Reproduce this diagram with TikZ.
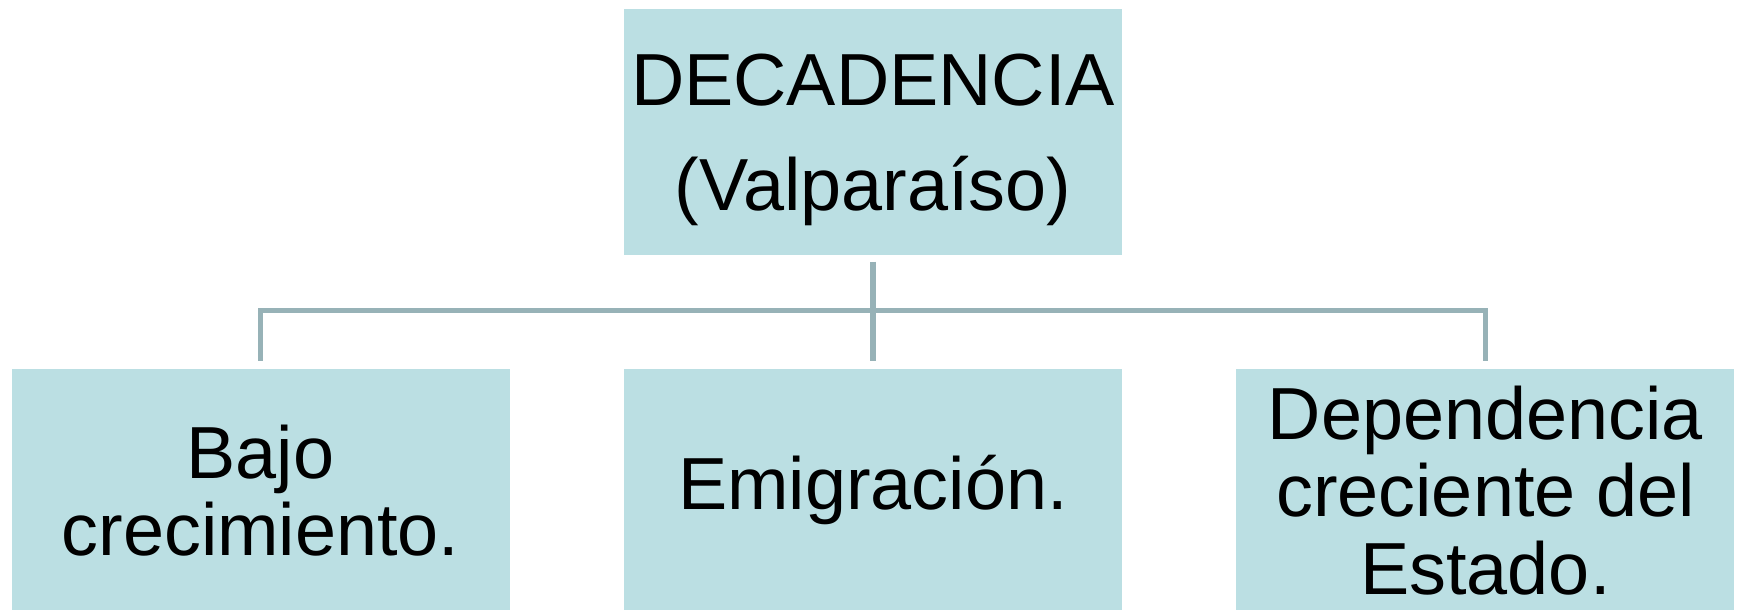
\documentclass[tikz,border=0pt]{standalone}
\usepackage{fontspec}
\setmainfont{Liberation Sans}
\usetikzlibrary{positioning}

\definecolor{boxfill}{HTML}{BBDFE3}
\definecolor{linkcol}{HTML}{97B2B7}

\begin{document}
\begin{tikzpicture}
[
	boxnode/.style={rectangle,fill=boxfill,inner sep=0pt,minimum width=4.98cm,align=center},
	topbox/.style={boxnode,minimum height=2.46cm,text depth=0pt,font=\fontsize{21}{30}\selectfont},
	lowbox/.style={boxnode,minimum height=2.42cm,font=\fontsize{21}{22}\selectfont},
	link/.style={draw=linkcol,line width=1.5pt}
]

	\useasboundingbox (0,0) rectangle (17.37,6.10);

	% boxes
	\node[topbox] (decad) at (8.73,4.78) {DECADENCIA\\(Valparaíso)};
	\node[lowbox,below=1.13cm of decad] (emig) {Emigración.};
	\node[lowbox,left=1.13cm of emig] (bajo) {Bajo\\crecimiento.};
	\node[lowbox,right=1.13cm of emig] (depend) {Dependencia\\creciente del\\Estado.};

	% connectors
	\coordinate (hub) at ([yshift=-0.55cm]decad.south);
	\draw[link] ([yshift=-0.06cm]decad.south) -- (hub);
	\draw[link] ([yshift=0.08cm]bajo.north) |- (hub) -| ([yshift=0.08cm]depend.north);
	\draw[link] (hub) -- ([yshift=0.08cm]emig.north);

\end{tikzpicture}
\end{document}
